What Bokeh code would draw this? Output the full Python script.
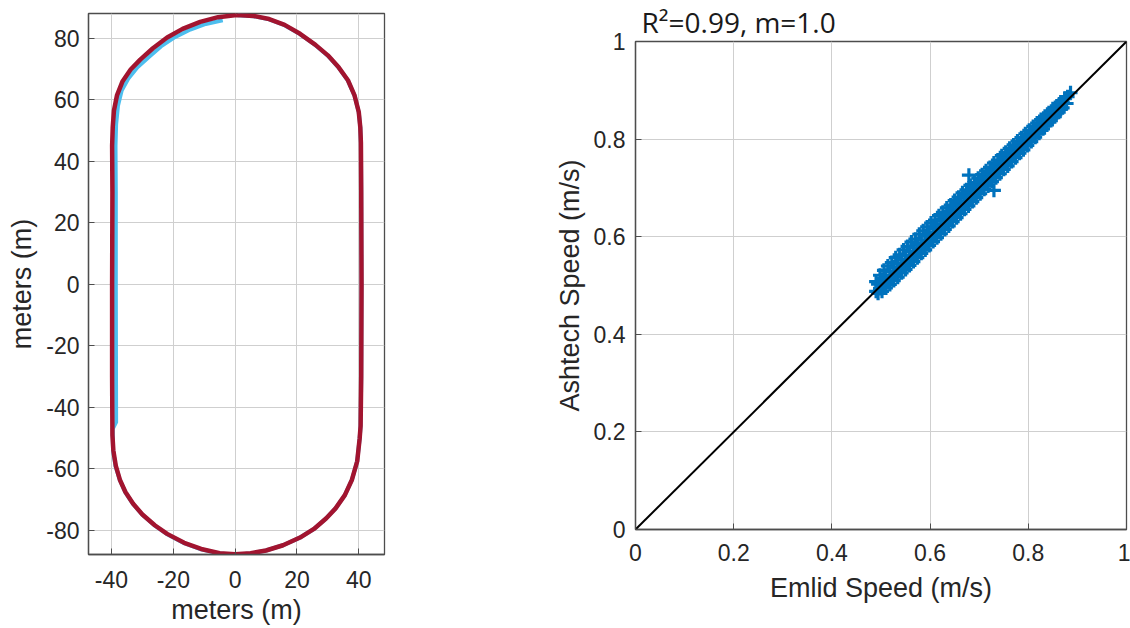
from bokeh.plotting import figure
from bokeh.layouts import row
from bokeh.models import Range1d, FixedTicker
from bokeh.embed import file_html
from bokeh.resources import INLINE

# ---------------- Left panel: track (meters) ----------------
# red track (full loop, clockwise from top)
track_red_x = [0.5, 6, 11, 16, 21, 26, 30, 33.5, 36.5, 38.6, 40, 40.5, 40.7,
               40.8, 40.9, 40.8, 40.6,
               40.3, 39.5, 37.8, 35.5, 32.5, 29.5, 25.5, 21, 15.5, 10, 5, 0,
               -5, -11, -16.5, -22, -26, -30, -33, -35.5, -37.3, -38.6, -39.4, -39.7,
               -39.8, -39.8, -39.7, -39.8,
               -39.6, -39.2, -38.2, -36.4, -33.8, -30.7, -26.6, -22, -17, -11.3, -5.5, 0.5]
track_red_y = [87.5, 87.2, 86.2, 84.3, 81.4, 77.8, 74.4, 70.5, 66.3, 61.5, 56, 51, 46,
               30, 0, -30, -46,
               -50, -57.5, -63.5, -68.5, -72.8, -76, -79.5, -82.3, -84.8, -86.5, -87.4, -87.7,
               -87.4, -86, -84, -81.1, -78.3, -74.8, -71.3, -67.5, -63.5, -59, -54, -49,
               -30, 0, 30, 45,
               51, 56.5, 61.5, 66, 69.8, 73, 76.7, 80.2, 83, 85.3, 86.8, 87.5]

# light-blue track (partly hidden under the red one)
track_blue_x = [0.8, 6, 11, 16, 21, 26, 30, 33.5, 36.5, 38.6, 40, 40.5, 40.7,
                40.8, 40.9, 40.8, 40.6,
                40.3, 39.5, 37.8, 35.5, 32.5, 29.5, 25.5, 21, 15.5, 10, 5, 0,
                -5, -11, -16.5, -22, -26, -30, -33, -35.5, -37.3, -38.7, -39.5, -39.6,
                -38.5, -38.6, -38.6, -38.7,
                -38.5, -37.9, -36.7, -34.6, -31.6, -28, -24, -19.5, -14.5, -9.5, -4]
track_blue_y = [87.4, 87.1, 86.1, 84.2, 81.3, 77.7, 74.3, 70.4, 66.2, 61.4, 55.9, 51, 46,
                30, 0, -30, -46,
                -50, -57.5, -63.5, -68.5, -72.8, -76, -79.5, -82.3, -84.8, -86.5, -87.5, -87.9,
                -87.5, -86.1, -84.1, -81.2, -78.4, -74.9, -71.4, -67.6, -63.6, -59.1, -54, -47,
                -44.8, 0, 30, 45,
                52, 58, 63, 66.8, 70.5, 73.8, 77.3, 80.3, 82.8, 84.6, 85.8]

track_xticks = [-40, -20, 0, 20, 40]
track_yticks = [-80, -60, -40, -20, 0, 20, 40, 60, 80]

# ---------------- Right panel: speed comparison ----------------
# upper edge of the point cloud
emlid_upper = [0.490, 0.498, 0.506, 0.514, 0.522, 0.530, 0.538, 0.546, 0.554, 0.562,
               0.570, 0.578, 0.586, 0.594, 0.602, 0.610, 0.618, 0.626, 0.634, 0.642,
               0.650, 0.658, 0.666, 0.674, 0.682, 0.690, 0.698, 0.706, 0.714, 0.722,
               0.730, 0.738, 0.746, 0.754, 0.762, 0.770, 0.778, 0.786, 0.794, 0.802,
               0.810, 0.818, 0.826, 0.834, 0.842, 0.850, 0.858, 0.866, 0.874]
ashtech_upper = [0.508, 0.521, 0.531, 0.540, 0.547, 0.557, 0.563, 0.573, 0.580, 0.589,
                 0.595, 0.605, 0.612, 0.620, 0.628, 0.634, 0.643, 0.650, 0.659, 0.665,
                 0.674, 0.681, 0.690, 0.696, 0.705, 0.711, 0.720, 0.727, 0.735, 0.742,
                 0.751, 0.757, 0.766, 0.773, 0.781, 0.788, 0.796, 0.803, 0.811, 0.818,
                 0.826, 0.833, 0.840, 0.847, 0.854, 0.862, 0.868, 0.876, 0.883]
# lower edge of the point cloud
emlid_lower = [0.494, 0.502, 0.510, 0.518, 0.526, 0.534, 0.542, 0.550, 0.558, 0.566,
               0.574, 0.582, 0.590, 0.598, 0.606, 0.614, 0.622, 0.630, 0.638, 0.646,
               0.654, 0.662, 0.670, 0.678, 0.686, 0.694, 0.702, 0.710, 0.718, 0.726,
               0.734, 0.742, 0.750, 0.758, 0.766, 0.774, 0.782, 0.790, 0.798, 0.806,
               0.814, 0.822, 0.830, 0.838, 0.846, 0.854, 0.862, 0.870, 0.878]
ashtech_lower = [0.484, 0.488, 0.495, 0.502, 0.510, 0.517, 0.526, 0.533, 0.541, 0.549,
                 0.557, 0.566, 0.573, 0.582, 0.590, 0.598, 0.606, 0.615, 0.622, 0.631,
                 0.639, 0.647, 0.656, 0.663, 0.672, 0.680, 0.688, 0.697, 0.704, 0.713,
                 0.721, 0.729, 0.738, 0.745, 0.754, 0.762, 0.771, 0.778, 0.787, 0.795,
                 0.804, 0.812, 0.821, 0.829, 0.838, 0.846, 0.855, 0.864, 0.873]
# inner points of the cloud
emlid_inner = [0.494, 0.502, 0.510, 0.518, 0.526, 0.534, 0.542, 0.550, 0.558, 0.566,
               0.574, 0.582, 0.590, 0.598, 0.606, 0.614, 0.622, 0.630, 0.638, 0.646,
               0.654, 0.662, 0.670, 0.678, 0.686, 0.694, 0.702, 0.710, 0.718, 0.726,
               0.734, 0.742, 0.750, 0.758, 0.766, 0.774, 0.782, 0.790, 0.798, 0.806,
               0.814, 0.822, 0.830, 0.838, 0.846, 0.854, 0.862, 0.870,
               0.490, 0.498, 0.506, 0.514, 0.522, 0.530, 0.538, 0.546, 0.554, 0.562,
               0.570, 0.578, 0.586, 0.594, 0.602, 0.610, 0.618, 0.626, 0.634, 0.642,
               0.650, 0.658, 0.666, 0.674, 0.682, 0.690, 0.698, 0.706, 0.714, 0.722,
               0.730, 0.738, 0.746, 0.754, 0.762, 0.770, 0.778, 0.786, 0.794, 0.802,
               0.810, 0.818, 0.826, 0.834, 0.842, 0.850, 0.858, 0.866]
ashtech_inner = [0.503, 0.513, 0.521, 0.529, 0.538, 0.545, 0.554, 0.561, 0.570, 0.577,
                 0.586, 0.593, 0.602, 0.609, 0.618, 0.625, 0.634, 0.641, 0.649, 0.657,
                 0.665, 0.673, 0.681, 0.689, 0.697, 0.704, 0.713, 0.720, 0.729, 0.736,
                 0.745, 0.752, 0.760, 0.768, 0.776, 0.783, 0.792, 0.799, 0.807, 0.815,
                 0.822, 0.831, 0.838, 0.846, 0.853, 0.861, 0.869, 0.876,
                 0.488, 0.494, 0.503, 0.509, 0.518, 0.525, 0.534, 0.541, 0.550, 0.557,
                 0.566, 0.573, 0.582, 0.589, 0.598, 0.605, 0.614, 0.621, 0.630, 0.637,
                 0.646, 0.653, 0.662, 0.669, 0.678, 0.685, 0.694, 0.701, 0.710, 0.717,
                 0.726, 0.733, 0.742, 0.749, 0.758, 0.765, 0.774, 0.781, 0.790, 0.797,
                 0.806, 0.813, 0.822, 0.829, 0.838, 0.845, 0.854, 0.861]
# isolated points
emlid_other = [0.679, 0.730, 0.880, 0.886]
ashtech_other = [0.726, 0.695, 0.887, 0.895]

fit_x = [0.0, 1.0]
fit_y = [0.0, 1.0]
speed_ticks = [0, 0.2, 0.4, 0.6, 0.8, 1]
speed_labels = ["0", "0.2", "0.4", "0.6", "0.8", "1"]

emlid_speed = emlid_upper + emlid_lower + emlid_inner + emlid_other
ashtech_speed = ashtech_upper + ashtech_lower + ashtech_inner + ashtech_other

TICK_FONT = "Liberation Sans"
TXT = "#262626"
FRAME = "#4d4d4d"


def style(p, xt, xl, yt, yl):
    p.background_fill_color = "white"
    p.border_fill_color = "white"
    p.outline_line_color = FRAME
    p.outline_line_width = 1.3
    p.xaxis.ticker = FixedTicker(ticks=xt)
    p.yaxis.ticker = FixedTicker(ticks=yt)
    p.xaxis.major_label_overrides = {t: l for t, l in zip(xt, xl)}
    p.yaxis.major_label_overrides = {t: l for t, l in zip(yt, yl)}
    for ax in (p.xaxis[0], p.yaxis[0]):
        ax.axis_line_color = FRAME
        ax.axis_line_width = 1.3
        ax.major_tick_in = 6
        ax.major_tick_out = 0
        ax.major_tick_line_color = FRAME
        ax.minor_tick_line_color = None
        ax.major_label_text_font = TICK_FONT
        ax.major_label_text_font_size = "23px"
        ax.major_label_text_color = TXT
        ax.axis_label_text_font = TICK_FONT
        ax.axis_label_text_font_size = "27px"
        ax.axis_label_text_font_style = "normal"
        ax.axis_label_text_color = TXT
    p.grid.grid_line_color = "#cfcfcf"
    p.grid.grid_line_width = 1


# Left figure
p1 = figure(width=440, height=628, output_backend="svg", toolbar_location=None,
            x_range=Range1d(-47.44, 48.33), y_range=Range1d(-87.8, 88.0),
            min_border_left=88, min_border_right=56, min_border_top=13, min_border_bottom=74)
p1.frame_align = False
style(p1, track_xticks, [str(t) for t in track_xticks], track_yticks, [str(t) for t in track_yticks])
p1.xaxis.axis_label = "meters (m)"
p1.yaxis.axis_label = "meters (m)"
p1.xaxis.major_label_standoff = 16
p1.yaxis.major_label_standoff = 9
p1.xaxis.axis_label_standoff = 4
p1.yaxis.axis_label_standoff = 6
p1.line(track_blue_x, track_blue_y, line_color="#4DBEEE", line_width=4, line_join="round")
p1.line(track_red_x, track_red_y, line_color="#A2142F", line_width=4.5, line_join="round")

# Right figure
p2 = figure(width=690, height=628, output_backend="svg", toolbar_location=None,
            x_range=Range1d(0, 1), y_range=Range1d(0, 1),
            min_border_left=195, min_border_right=4, min_border_top=39, min_border_bottom=99,
            title="R\u00b2=0.99, m=1.0")
p2.frame_align = False
style(p2, speed_ticks, speed_labels, speed_ticks, speed_labels)
p2.title.text_font = "Open Sans"
p2.title.text_font_size = "28px"
p2.title.text_font_style = "normal"
p2.title.text_color = "#1a1a1a"
p2.title.align = "left"
p2.title.offset = 6
p2.title.standoff = 1
p2.xaxis.axis_label = "Emlid Speed (m/s)"
p2.yaxis.axis_label = "Ashtech Speed (m/s)"
p2.xaxis.major_label_standoff = 14
p2.yaxis.major_label_standoff = 10
p2.xaxis.axis_label_standoff = 9
p2.yaxis.axis_label_standoff = 6
p2.scatter(emlid_speed, ashtech_speed, marker="cross", size=14, line_width=3.2,
           line_color="#0072BD")
p2.line(fit_x, fit_y, line_color="black", line_width=2)

layout = row(p1, p2)
open("out.html", "w").write(file_html(layout, INLINE))
